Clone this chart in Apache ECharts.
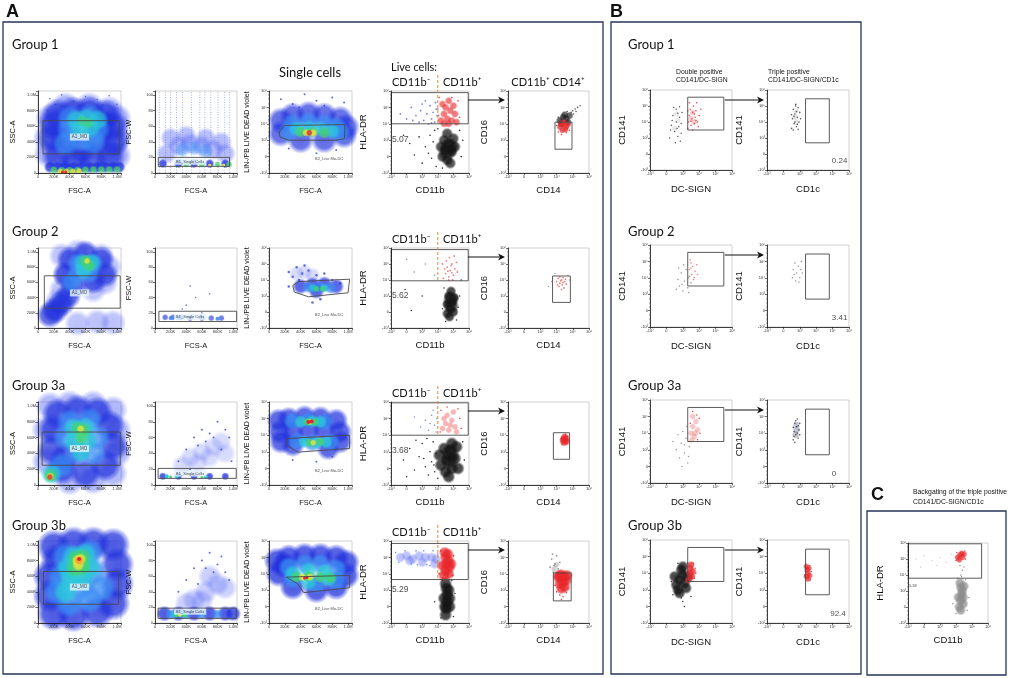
<!DOCTYPE html>
<html>
<head>
<meta charset="utf-8">
<script src="https://cdn.jsdelivr.net/npm/echarts@6/dist/echarts.min.js"></script>
<style>
html, body { margin: 0; padding: 0; background: #fff; }
#main { width: 1029px; height: 678px; }
</style>
</head>
<body>
<div id="main"></div>
<script>
// tick labels
const fscTicks = ['0', '200K', '400K', '600K', '800K', '1.0M'];
const fscwTicks = ['0', '20', '40', '60', '80', '100'];
const logTicks = ['-10³', '0', '10³', '10⁴', '10⁵', '10⁶'];

// ---- Group 1 ----
const g1FscDots = [[150,950],[300,1000],[450,920],[600,980],[750,940],[900,990],[1000,880],[220,880],[520,860],[820,870],[120,800],[980,820]];
const g1FscHaze = [[150,700],[120,450],[130,250],[1000,700],[1000,450],[1000,220],[350,850],[650,850],[900,800]];
const g1FscBlue = [[250,750],[450,780],[650,780],[850,740],[950,600],[950,400],[900,220],[700,200],[450,180],[250,220],[200,450],[200,620],[350,450],[750,450],[800,620],[550,300]];
const g1FscLblue = [[400,700],[650,720],[400,560],[750,560],[550,430],[700,400],[350,380]];
const g1FscCyan = [[480,680],[620,700],[520,560],[660,580],[760,680]];
const g1FscGreen = [[560,670],[640,640]];
const g1FscBandBlue = [[150,75],[250,75],[350,75],[450,75],[550,75],[650,75],[750,75],[850,75],[950,75],[1030,75]];
const g1FscBandGreen = [[200,40],[300,35],[400,35],[500,38],[600,40],[700,45],[800,45],[900,45],[1000,45]];
const g1FscBandYellow = [[280,20],[360,20],[440,22],[520,25]];
const g1FscBandRed = [[310,12],[350,12]];

const g1WStreaks = [55,136,200,276,353,467,574,638,714,808,893,957];
const g1WHaze = [[150,25],[300,35],[450,38],[600,35],[750,30],[900,25],[200,45],[400,48],[650,45],[850,40]];
const g1WLblue = [[350,30],[500,32],[650,28]];
const g1WBandBlue = [[100,12],[300,12],[500,12],[700,12],[900,12]];
const g1WBandGreen = [[400,11],[600,11],[800,11],[950,11]];
const g1WBandYellow = [[700,10],[880,10]];

const g1LinDots = [[150,4.5],[300,4.2],[450,4.8],[600,4.4],[800,4.6],[950,4.3],[250,1.5],[600,1.2],[850,1.4],[380,4.0],[700,4.1]];
const g1LinBlue = [[150,3.2],[300,3.5],[500,3.6],[700,3.5],[900,3.3],[980,2.8],[150,2.4],[400,2.0],[700,2.0],[950,2.3]];
const g1LinLblue = [[300,3.0],[500,3.1],[700,3.0],[850,2.8],[250,2.5],[900,2.5]];
const g1LinCyan = [[350,2.7],[500,2.75],[650,2.7],[800,2.55]];
const g1LinGreen = [[400,2.5],[550,2.5],[700,2.45]];
const g1LinYellow = [[470,2.45],[560,2.45]];
const g1LinRed = [[510,2.45]];

const g1HlaBlackDots = [[1.2,1.8],[1.8,2.2],[2.2,1.6],[2.5,2.3],[2.6,0.9],[2.4,1.2],[2.8,2.6],[1.5,1.1],[2.0,0.6],[2.9,0.4],[3.0,2.7],[4.5,1.0],[4.6,2.0],[4.4,2.6],[3.3,0.3],[0.8,2.3],[2.7,1.9]];
const g1HlaBlack = [[3.3,1.0],[3.5,1.4],[3.7,1.8],[3.9,1.3],[3.6,0.8],[3.4,2.0],[4.0,2.1],[3.8,0.6],[3.2,1.6],[4.1,1.6],[3.6,2.4]];
const g1HlaCore = [[3.6,1.3],[3.75,1.6]];
const g1HlaRed = [[3.2,3.2],[3.4,3.6],[3.6,3.3],[3.8,3.8],[3.5,4.0],[3.9,3.2],[4.1,3.6],[3.3,4.2],[3.7,4.4],[4.0,4.1],[3.4,3.0],[3.7,3.0],[4.2,3.1]];
const g1HlaRedDots = [[3.1,4.6],[4.3,4.4],[4.4,3.4],[3.05,3.5],[3.0,3.9],[3.9,4.6]];
const g1HlaBlueDots = [[0.6,3.6],[1.0,3.3],[1.3,4.0],[1.6,3.5],[1.9,3.8],[2.1,3.2],[2.3,3.6],[2.5,4.1],[2.6,3.3],[2.7,3.7],[2.8,3.1],[2.9,3.9],[2.85,4.3],[2.4,3.0],[2.2,4.4],[1.8,3.1],[2.95,3.5],[2.6,3.05],[1.4,3.2],[2.0,4.2]];

const g1Cd16Black = [[3.2,3.2],[3.4,3.4],[3.6,3.3],[3.5,3.55],[3.3,3.0],[3.7,3.1],[3.8,3.5]];
const g1Cd16Grey = [[3.9,3.7],[4.0,3.8],[4.15,3.9],[4.3,4.0],[4.45,4.1],[3.1,3.4],[3.65,3.75],[4.05,3.6],[3.0,2.9],[4.2,3.75]];
const g1Cd16Red = [[3.2,2.8],[3.4,2.9],[3.6,2.8],[3.35,2.6],[3.55,2.65],[3.7,2.95],[3.25,3.0],[3.45,3.1]];
const g1Cd16RedDots = [[3.1,2.5],[3.8,2.6],[3.3,2.35],[3.6,2.45]];

// ---- Group 2 ----
const g2FscHaze = [[300,950],[500,1000],[800,950],[900,800],[850,600],[350,700],[300,500],[250,350],[200,250],[700,500],[750,80],[500,60],[950,70]];
const g2FscBlue = [[400,900],[600,980],[800,900],[850,700],[350,700],[450,560],[380,420],[300,320],[220,230],[150,170],[700,620]];
const g2FscLblue = [[500,850],[700,850],[500,700],[650,720],[420,600]];
const g2FscCyan = [[560,860],[680,860],[580,760]];
const g2FscGreen = [[600,880],[650,820]];
const g2FscYellow = [[620,880]];

const g2WDots = [[400,30],[520,40],[350,25],[600,20],[700,45],[450,55]];
const g2WBand = [[130,14],[230,14],[330,14],[450,13],[600,13],[720,13],[850,13]];
const g2WBandLight = [[200,13],[300,13],[800,12]];

const g2LinDots = [[250,3.5],[350,3.8],[420,3.4],[300,3.2],[500,3.6],[600,3.3],[450,3.9],[380,3.0],[700,3.4],[800,3.0],[900,2.8],[650,1.8],[550,1.6],[250,2.6]];
const g2LinHaze = [[350,3.4],[450,3.5],[550,3.3]];
const g2LinBlue = [[400,2.6],[550,2.7],[700,2.75],[850,2.6],[600,2.3]];
const g2LinLblue = [[500,2.55],[650,2.55],[780,2.5]];
const g2LinCyan = [[560,2.5],[700,2.5]];
const g2LinGreen = [[600,2.45],[680,2.45]];

const g2HlaBlack = [[3.6,0.9],[3.8,1.2],[3.9,1.6],[3.7,2.0],[3.85,2.3],[4.0,1.0],[3.6,1.5],[4.05,1.9],[3.75,0.7]];
const g2HlaCore = [[3.85,1.4],[3.85,1.8]];
const g2HlaBlackDots = [[3.3,1.2],[3.4,2.5],[4.3,1.3],[4.4,2.0],[3.5,0.4],[4.2,0.5],[2.0,2.0],[1.3,1.1],[0.9,2.4],[4.5,3.0]];
const g2HlaRedDots = [[3.35,3.1],[3.5,3.4],[3.6,3.8],[3.7,3.2],[3.8,3.6],[3.9,4.0],[4.0,3.3],[4.1,3.7],[3.55,4.2],[3.75,4.4],[3.95,3.0],[4.2,4.1],[3.45,3.7],[3.85,3.9],[4.05,4.5],[3.65,3.55],[4.25,3.5],[3.3,4.0],[3.9,3.45],[3.7,3.0]];
const g2HlaGreyDots = [[1.5,3.5],[2.2,4.0],[2.8,3.3],[1.0,4.3]];

const g2Cd16Red = [[3.0,2.9],[3.1,3.1],[3.2,2.8],[3.3,3.0],[3.35,2.7],[3.4,3.15],[3.5,2.9],[3.55,3.05],[3.15,2.6],[3.45,2.5],[3.25,2.95],[3.6,2.75],[3.05,2.7],[3.3,2.4],[3.4,2.85],[3.2,3.2]];
const g2Cd16Grey = [[2.5,2.6],[2.7,2.9],[3.7,3.3],[3.8,3.0],[2.9,3.4]];

// ---- Group 3a ----
const g3aFscHaze = [[150,1000],[400,1020],[700,1020],[950,950],[1000,700],[1000,400],[950,150],[700,60],[400,50],[100,300],[100,700]];
const g3aFscBlue = [[250,900],[500,950],[750,920],[900,750],[950,500],[850,250],[600,150],[300,200],[180,450],[200,700],[350,350]];
const g3aFscLblue = [[400,800],[650,820],[350,600],[750,600],[500,420],[700,400],[300,250]];
const g3aFscCyan = [[450,720],[600,730],[450,560],[620,560],[540,420],[170,140]];
const g3aFscGreen = [[500,720],[580,700],[550,600],[160,120]];
const g3aFscYellow = [[540,710],[155,110]];
const g3aFscRed = [[150,100]];

const g3aWHaze = [[450,35],[600,42],[750,48],[850,55],[700,35],[550,28],[900,40],[350,25]];
const g3aWDots = [[300,30],[400,45],[500,60],[600,70],[700,65],[800,80],[900,70],[950,60],[650,55],[550,50],[750,60],[850,45],[450,20],[980,30]];
const g3aWBand = [[100,11],[300,11],[500,11],[700,11],[900,11]];
const g3aWBandCyan = [[150,11],[280,11],[650,10]];
const g3aWBandGreen = [[200,10],[600,10]];

const g3aLinBlue = [[120,3.9],[250,4.0],[450,4.1],[650,4.05],[850,3.9],[130,3.2],[300,3.2],[700,3.3],[900,3.2],[150,2.6],[300,2.4],[750,2.2],[900,2.6],[500,3.2]];
const g3aLinLblue = [[300,3.85],[500,3.9],[700,3.8],[350,2.65],[550,2.55],[780,2.6]];
const g3aLinCyan = [[400,3.8],[550,3.85],[650,3.8],[450,2.6],[600,2.55],[720,2.6]];
const g3aLinGreen = [[480,3.8],[580,3.8],[520,2.55],[650,2.6]];
const g3aLinYellow = [[520,3.8],[560,2.55]];
const g3aLinRed = [[500,3.8],[540,3.82]];
const g3aLinDots = [[300,1.5],[600,1.4],[800,1.7]];

const g3aHlaBlack = [[3.2,1.2],[3.5,0.8],[3.6,1.5],[3.8,2.1],[3.9,1.0],[4.1,1.6],[3.4,2.2],[4.2,2.3],[3.7,0.5],[4.3,1.0],[3.1,1.8],[3.9,2.5]];
const g3aHlaCore = [[3.75,1.5],[3.8,1.9]];
const g3aHlaBlackDots = [[0.8,1.5],[1.2,2.2],[1.5,0.9],[1.8,1.7],[2.0,2.5],[2.2,1.1],[2.4,0.6],[2.5,2.0],[2.6,1.4],[2.7,2.6],[2.8,0.8],[2.9,1.9],[1.0,0.5],[2.3,2.8],[1.6,2.7],[3.0,0.4],[4.6,2.6],[4.7,1.5],[2.1,1.6],[2.75,1.2]];
const g3aHlaRed = [[3.3,3.4],[3.5,3.7],[3.7,3.3],[3.9,3.9],[4.1,3.5],[3.6,4.2],[4.0,4.4],[3.4,4.0],[4.2,3.2],[3.8,3.6]];
const g3aHlaRedDots = [[3.15,3.2],[3.2,4.5],[4.4,4.0],[4.5,3.4],[3.6,4.7],[4.3,4.6]];
const g3aHlaBlueDots = [[1.9,3.5],[2.2,3.9],[2.4,3.3],[2.6,4.2],[2.8,3.6],[2.9,3.2],[2.95,4.0],[2.7,4.5],[1.5,4.1],[2.5,3.7]];

const g3aCd16Red = [[3.4,2.7],[3.55,2.75],[3.5,2.9],[3.45,2.55],[3.6,2.6]];
const g3aCd16Core = [[3.5,2.75]];
const g3aCd16RedDots = [[3.3,2.8],[3.7,2.95],[3.35,2.45],[3.65,2.5],[3.55,3.05]];

// ---- Group 3b ----
const g3bFscBlue = [[200,980],[450,1020],[700,1020],[950,1000],[1000,750],[1000,500],[950,250],[750,150],[450,100],[200,120],[150,350],[150,600],[250,800]];
const g3bFscLblue = [[350,850],[650,900],[300,600],[700,650],[250,400],[550,450],[800,450],[400,250],[650,300]];
const g3bFscCyan = [[450,850],[600,880],[380,700],[650,700],[420,550],[550,550],[350,400]];
const g3bFscGreen = [[480,820],[560,840],[470,700],[560,720]];
const g3bFscYellow = [[500,800],[540,820],[510,740]];
const g3bFscOrange = [[520,800]];
const g3bFscRed = [[520,820]];

const g3bWHaze = [[500,30],[650,40],[800,50],[900,45],[400,25],[700,60],[600,28]];
const g3bWDots = [[300,40],[400,55],[500,70],[600,80],[700,90],[800,75],[900,65],[550,50],[750,65],[850,85],[650,70],[950,55]];
const g3bWBand = [[120,12],[300,12],[500,12],[700,12],[900,12],[1000,12]];
const g3bWBandLight = [[200,11],[400,11],[600,11],[800,11]];
const g3bWBandCyan = [[250,11],[350,11]];
const g3bWBandGreen = [[280,10],[380,10]];
const g3bWBandYellow = [[320,10]];

const g3bLinBlue = [[100,3.8],[250,4.0],[450,4.1],[650,4.1],[850,4.0],[980,3.7],[120,3.0],[980,2.9],[300,2.2],[600,2.0],[850,2.2],[200,3.5]];
const g3bLinLblue = [[250,3.4],[450,3.6],[650,3.6],[850,3.3],[300,2.7],[850,2.6],[600,2.4]];
const g3bLinCyan = [[300,3.0],[500,3.2],[700,3.1],[500,2.5],[750,2.7]];
const g3bLinGreen = [[350,2.8],[500,2.85],[650,2.8],[780,2.75]];
const g3bLinYellow = [[420,2.8],[520,2.8]];
const g3bLinRed = [[450,2.75],[480,2.78]];

const g3bHlaBlack = [[3.5,0.5],[3.55,0.9],[3.6,1.3],[3.6,1.7],[3.55,2.1],[3.5,2.4],[3.75,1.0],[3.75,1.5],[3.7,2.0],[3.4,1.5],[3.45,1.0]];
const g3bHlaBlackDots = [[3.2,0.3],[4.0,0.4],[3.9,2.6],[3.3,2.6],[2.8,1.3],[4.1,1.8]];
const g3bHlaRed = [[3.4,2.9],[3.5,3.2],[3.55,3.6],[3.5,4.0],[3.45,4.3],[3.7,3.0],[3.75,3.4],[3.7,3.8],[3.65,4.2],[3.3,3.5],[3.85,3.6]];
const g3bHlaRedDots = [[3.1,3.0],[3.2,4.4],[3.95,2.9],[4.0,4.1],[3.3,2.75]];
const g3bHlaBlueHaze = [[0.6,4.0],[1.0,4.1],[1.4,3.9],[1.8,4.1],[2.2,4.0],[2.6,4.0],[2.9,3.9],[1.2,3.8],[2.0,3.7],[2.8,3.6]];
const g3bHlaBlueDots = [[0.3,4.3],[0.5,3.7],[0.9,4.4],[1.3,3.6],[1.6,4.4],[2.1,4.4],[2.5,3.5],[2.7,4.4],[3.0,4.2],[1.7,3.55],[2.3,3.55]];

const g3bCd16Red = [[3.1,2.8],[3.3,2.95],[3.5,2.85],[3.6,2.6],[3.4,2.5],[3.2,2.4],[3.5,2.2],[3.3,2.1],[3.15,2.9],[3.65,2.9],[3.4,2.75]];
const g3bCd16RedDots = [[3.0,1.9],[3.2,1.7],[3.4,1.6],[3.6,1.85],[3.3,1.45],[3.7,2.1],[2.9,2.3]];
const g3bCd16Grey = [[2.6,3.4],[2.7,3.9],[2.8,3.1],[2.9,3.6],[3.0,4.1],[3.1,3.3],[3.2,3.7],[2.75,4.2],[3.05,3.0],[2.85,3.5]];
const g3bCd16GreyHaze = [[2.85,3.3],[3.0,3.55]];

// ---- panel B: DC-SIGN / CD141 ----
const b1SignGrey = [[1.2,2.0],[1.3,2.8],[1.4,3.4],[1.5,2.4],[1.6,3.0],[1.6,3.8],[1.7,2.1],[1.75,2.7],[1.8,3.3],[1.85,1.8],[1.9,2.9],[1.95,3.6],[1.45,3.9],[1.55,1.7],[1.35,3.1],[1.65,2.6],[1.8,3.95],[1.25,2.5],[1.9,2.3],[1.7,3.55]];
const b1SignGreyHaze = [[1.5,2.6],[1.7,3.1],[1.6,3.5]];
const b1SignRed = [[2.3,2.6],[2.35,3.0],[2.4,3.4],[2.45,3.8],[2.5,2.8],[2.55,3.2],[2.6,3.6],[2.65,4.0],[2.7,2.9],[2.75,3.3],[2.8,3.7],[2.85,4.2],[2.9,3.0],[3.0,3.4],[3.1,3.8],[2.4,4.2],[2.6,2.5],[2.95,2.7],[2.3,3.7],[2.7,3.5],[2.5,3.05],[2.8,3.1]];
const b1SignRedHaze = [[2.5,3.2],[2.6,3.6],[2.7,3.0]];
const b2SignGrey = [[1.6,2.3],[1.7,2.9],[1.8,2.5],[1.9,3.3],[2.0,2.2],[2.1,2.8],[2.2,3.5],[2.3,2.4],[2.4,3.1],[1.75,3.6],[2.05,3.8],[2.35,2.1],[1.95,2.6],[2.5,2.7]];
const b2SignRed = [[2.35,3.0],[2.4,3.5],[2.5,3.9],[2.55,3.2],[2.6,3.7],[2.7,3.0],[2.75,3.4],[2.85,3.8],[2.45,4.1],[2.9,3.2],[2.65,2.9],[2.5,3.6]];
const b3SignGrey = [[1.4,2.5],[1.6,2.0],[1.7,2.9],[1.8,1.5],[1.9,2.4],[2.0,3.1],[2.1,1.8],[2.2,2.7],[2.3,1.2],[2.4,2.2],[2.25,3.4],[1.95,1.0],[2.1,2.3],[2.35,1.6]];
const b3SignRed = [[2.5,3.0],[2.6,3.4],[2.7,2.8],[2.8,3.7],[2.9,3.2],[2.6,4.0],[2.75,3.0],[2.55,2.6]];
const b3SignRedDots = [[2.4,2.5],[2.45,3.6],[2.6,4.3],[2.9,2.6],[3.0,3.9],[2.85,4.1],[3.05,3.0]];
const b4SignBlack = [[1.6,2.3],[1.8,2.6],[2.0,2.9],[2.1,2.4],[1.9,3.2],[1.7,2.0],[2.2,2.1],[2.3,2.8],[1.5,2.8],[2.0,3.4],[1.8,1.8]];
const b4SignBlackDots = [[1.3,2.5],[1.4,1.7],[2.5,1.6],[2.0,1.3],[1.7,3.6],[2.3,3.6],[2.1,1.0],[1.9,1.5]];
const b4SignRed = [[2.35,2.6],[2.4,3.0],[2.45,3.3],[2.55,2.8],[2.5,3.5],[2.6,3.1]];
const b4SignRedDots = [[2.7,2.7],[2.75,3.3],[2.8,3.0],[2.65,3.6]];

// ---- panel B: CD1c / CD141 ----
const b1Cd1cDots = [[1.5,2.6],[1.55,3.2],[1.6,3.8],[1.65,2.9],[1.7,3.5],[1.75,4.1],[1.8,2.7],[1.85,3.3],[1.9,3.9],[1.95,3.0],[2.0,3.6],[1.6,2.5],[1.7,3.0],[1.8,3.65],[1.9,2.55],[1.75,4.0],[1.5,3.45],[2.05,3.2],[1.65,3.35],[1.85,2.85]];
const b1Cd1cHaze = [[1.7,3.3],[1.8,3.0],[1.75,3.7]];
const b2Cd1cDots = [[1.55,3.0],[1.6,3.5],[1.7,3.9],[1.75,2.8],[1.8,3.3],[1.9,3.7],[2.0,3.0],[2.05,3.5],[2.1,4.0],[1.65,3.2],[1.95,2.75],[2.15,3.3]];
const b3Cd1cDots = [[1.6,2.6],[1.65,3.1],[1.7,3.6],[1.75,2.9],[1.8,3.4],[1.85,3.85],[1.9,2.7],[1.95,3.2],[2.0,3.6],[1.7,2.45],[1.6,3.35],[1.85,3.0],[1.75,3.75],[2.0,2.9],[1.9,3.45],[1.65,2.8]];
const b3Cd1cHaze = [[1.8,3.2],[1.75,2.9],[1.8,3.5]];
const b4Cd1cRed = [[2.4,2.8],[2.5,3.0],[2.55,3.3],[2.45,3.2],[2.6,2.85],[2.5,2.65],[2.4,3.4]];
const b4Cd1cRedDots = [[2.3,2.9],[2.7,3.1],[2.35,3.55],[2.65,2.6],[2.6,3.45]];

// ---- panel C: backgating ----
const cGrey = [[3.2,1.0],[3.3,1.4],[3.35,1.8],[3.3,2.2],[3.25,2.5],[3.45,1.2],[3.45,1.6],[3.4,2.0],[3.15,1.6],[3.5,2.3],[3.3,0.8]];
const cGreyDots = [[3.0,0.6],[3.7,0.8],[3.6,2.7],[3.1,2.8],[3.3,3.0],[3.4,3.3],[3.25,3.6],[3.5,3.5],[2.8,1.2],[3.8,1.6],[3.35,2.9]];
const cLightDots = [[0.5,4.0],[1.0,4.2],[1.5,3.9],[2.0,4.1],[2.4,3.8],[2.7,4.3],[1.8,3.6],[0.8,3.5]];
const cRed = [[3.1,4.1],[3.25,4.25],[3.4,4.1],[3.2,3.95],[3.5,4.3],[3.35,4.35]];
const cRedDots = [[3.0,3.9],[3.6,4.0],[3.05,4.4],[3.55,4.5]];

// gates: [x0, x1, y0, y1] or polygon
const gatesFsc = [[63,1029,245,670],[80,1040,260,685],[52,1040,250,670],[70,1020,240,660]];
const gatesW = [[42,955,8.5,20],[50,1045,8.5,22],[40,1040,8.4,21],[40,1040,6,19]];
const gatesLin = [
  [[127,2.5],[200,2.9],[960,2.95],[955,2.1],[850,2.0],[250,2.0],[140,2.2],[127,2.5]],
  [[300,2.65],[375,2.9],[1020,3.05],[1000,2.2],[500,1.95],[320,2.25],[300,2.65]],
  [[220,2.8],[1020,3.0],[1020,2.2],[360,1.98],[225,2.4],[220,2.8]],
  [[220,2.8],[1020,2.9],[1020,2.15],[440,1.85],[360,2.4],[220,2.8]]
];
const gatesHla = [[0.02,4.95,3.0,4.9],[0.02,4.95,2.95,4.9],[0.02,4.95,3.0,4.95],[0.02,4.95,2.65,4.85]];
const gatesCd16 = [[2.9,3.95,1.45,3.1],[2.75,3.85,1.6,3.25],[2.8,3.8,1.55,3.15],[2.8,3.9,1.35,3.05]];
const gateSign = [2.3,4.5,2.5,4.55];
const gateCd1c = [2.35,3.8,1.7,4.45];
const gateBack = [0.02,4.6,2.8,4.95];

const pctHla = ['5.07', '5.62', '3.68', '5.29'];
const pctCd1c = ['0.24', '3.41', '0', '92.4'];
const pctBack = '5.38';
const groupNames = ['Group 1', 'Group 2', 'Group 3a', 'Group 3b'];

// ---------- layout ----------
const colA = [[38,121],[155,237],[269,352],[391,469],[508,589]];
const rowA = [[91,173],[248,328],[402,485],[541,623]];
const colB = [[650,732],[767,849]];
const rowB = [[90,170],[245,327],[400,483],[540,623]];
const rectC = [908,988,543,623];
const groupY = [45, 232, 386, 526];

const COL = {
  haze: '#5566f2', blue: '#1f30dc', lblue: '#3a8ef4', cyan: '#28cad8', green: '#44d46a',
  yellow: '#f2e43a', orange: '#f39230', red: '#e8262a', black: '#141414', grey: '#8a8a8a',
  dot: '#3546e6', lgrey: '#c4c4c4', dgrey: '#444', pale: '#6a78e8', pink: '#f06a6a'
};

const AXES = {
  fsc: { min: 0, max: 1050, interval: 200, labels: fscTicks },
  fscw: { min: 0, max: 105, interval: 20, labels: fscwTicks },
  log: { min: 0, max: 5, interval: 1, labels: logTicks }
};

const SANS = 'Liberation Sans, Arial, sans-serif';
const TITLE = 'Lato, Open Sans, sans-serif';

const grids = [], xAxes = [], yAxes = [], series = [], graphics = [];

function rgba(hex, a) {
  const n = parseInt(hex.slice(1), 16);
  return 'rgba(' + (n >> 16) + ',' + ((n >> 8) & 255) + ',' + (n & 255) + ',' + a + ')';
}

// soft-edged fill so overlapping blobs read as a density cloud
function softFill(hex, op) {
  return { type: 'radial', x: 0.5, y: 0.5, r: 0.5, colorStops: [
    { offset: 0, color: rgba(hex, op) }, { offset: 0.62, color: rgba(hex, op * 0.92) },
    { offset: 1, color: rgba(hex, 0) }] };
}

function makeAxis(kind, gi, name, gap, size) {
  const k = AXES[kind];
  return {
    type: 'value', gridIndex: gi, min: k.min, max: k.max, interval: k.interval, z: 10,
    name: name, nameLocation: 'middle', nameGap: gap,
    nameTextStyle: { fontSize: size, fontFamily: SANS, color: '#111' },
    axisLine: { show: true, onZero: false, lineStyle: { color: '#111', width: 0.8 } },
    axisTick: { show: true, length: 2, lineStyle: { color: '#111', width: 0.6 } },
    minorTick: { show: kind === 'log', splitNumber: 4, length: 1, lineStyle: { color: '#333', width: 0.4 } },
    axisLabel: {
      fontSize: 4, color: '#333', margin: 2, fontFamily: SANS,
      formatter: function (v) {
        const i = (v - k.min) / k.interval;
        return Math.abs(i - Math.round(i)) < 1e-6 ? (k.labels[Math.round(i)] || '') : '';
      }
    },
    splitLine: { show: false }
  };
}

function gatePath(g) {
  if (typeof g[0] === 'number') {
    return [[g[0], g[2]], [g[1], g[2]], [g[1], g[3]], [g[0], g[3]], [g[0], g[2]]];
  }
  return g;
}

function addPlot(p) {
  const gi = grids.length;
  const [l, r, t, b] = p.rect;
  grids.push({ left: l, top: t, width: r - l, height: b - t, show: true,
    borderColor: '#b4b4b4', borderWidth: 0.6, backgroundColor: '#fff' });
  xAxes.push(makeAxis(p.x, gi, p.xn, p.xg, p.xs));
  yAxes.push(makeAxis(p.y, gi, p.yn, p.yg, p.ys));
  (p.streaks || []).forEach(function (sx) {
    series.push({ type: 'line', xAxisIndex: gi, yAxisIndex: gi, symbol: 'none', silent: true, animation: false,
      data: [[sx, AXES[p.y].min], [sx, AXES[p.y].max]],
      lineStyle: { color: COL.dot, width: 0.7, type: [1, 1.5], opacity: 0.6 }, z: 2 });
  });
  p.layers.forEach(function (ly) {
    const soft = ly[2] >= 5;
    series.push({ type: 'scatter', xAxisIndex: gi, yAxisIndex: gi, data: ly[0],
      symbolSize: soft ? ly[2] * 1.35 : ly[2], clip: true, silent: true, animation: false,
      itemStyle: soft ? { color: softFill(COL[ly[1]], ly[3]) } : { color: COL[ly[1]], opacity: ly[3] }, z: 2 });
  });
  if (p.gate) {
    series.push({ type: 'line', xAxisIndex: gi, yAxisIndex: gi, data: gatePath(p.gate), symbol: 'none',
      silent: true, animation: false, lineStyle: { color: '#4a4a4a', width: 0.9 }, z: 5 });
  }
  (p.notes || []).forEach(function (n) {
    series.push({ type: 'scatter', xAxisIndex: gi, yAxisIndex: gi, data: [n.at], symbolSize: 0.1,
      silent: true, animation: false, itemStyle: { color: 'rgba(0,0,0,0)' }, z: 6,
      label: { show: true, formatter: n.text, position: n.pos || 'inside', distance: 0,
        fontSize: n.size, fontFamily: SANS, color: '#222',
        backgroundColor: n.box ? '#e4f4ff' : 'transparent', padding: n.box ? [1, 2] : 0 } });
  });
  return gi;
}

function rectA(c, r) { return [colA[c][0], colA[c][1], rowA[r][0], rowA[r][1]]; }
function rectB(c, r) { return [colB[c][0], colB[c][1], rowB[r][0], rowB[r][1]]; }

// ---------- panel A ----------
const fscLayers = [
  [[g1FscDots,'dot',1.6,0.8],[g1FscHaze,'haze',22,0.7],[g1FscBlue,'blue',24,0.95],[g1FscLblue,'lblue',20,0.9],[g1FscCyan,'cyan',16,0.9],[g1FscGreen,'green',9,0.75],
   [g1FscBandBlue,'blue',9,1],[g1FscBandGreen,'green',6,1],[g1FscBandYellow,'yellow',5,1],[g1FscBandRed,'red',3,1]],
  [[g2FscHaze,'haze',20,0.5],[g2FscBlue,'blue',20,0.95],[g2FscLblue,'lblue',16,0.95],[g2FscCyan,'cyan',14,0.95],[g2FscGreen,'green',10,0.95],[g2FscYellow,'yellow',5,1]],
  [[g3aFscHaze,'haze',22,0.6],[g3aFscBlue,'blue',24,0.95],[g3aFscLblue,'lblue',20,0.95],[g3aFscCyan,'cyan',16,0.95],[g3aFscGreen,'green',11,0.95],
   [g3aFscYellow,'yellow',6,1],[g3aFscRed,'red',5,1]],
  [[g3bFscBlue,'blue',26,1],[g3bFscLblue,'lblue',22,1],[g3bFscCyan,'cyan',18,1],[g3bFscGreen,'green',14,1],
   [g3bFscYellow,'yellow',9,1],[g3bFscOrange,'orange',7,1],[g3bFscRed,'red',4,1]]
];
const wLayers = [
  [[g1WHaze,'haze',16,0.55],[g1WLblue,'lblue',12,0.6],[g1WBandBlue,'blue',7,1],[g1WBandGreen,'green',5,1],[g1WBandYellow,'yellow',3,1]],
  [[g2WDots,'dot',1.6,0.8],[g2WBand,'blue',5,0.8],[g2WBandLight,'lblue',4,0.9]],
  [[g3aWHaze,'haze',16,0.3],[g3aWDots,'dot',2,0.8],[g3aWBand,'blue',6,1],[g3aWBandCyan,'cyan',4,1],[g3aWBandGreen,'green',3,1]],
  [[g3bWHaze,'haze',18,0.4],[g3bWDots,'dot',2,0.8],[g3bWBand,'blue',12,1],[g3bWBandLight,'lblue',8,1],[g3bWBandCyan,'cyan',6,1],
   [g3bWBandGreen,'green',4,1],[g3bWBandYellow,'yellow',3,1]]
];
const linLayers = [
  [[g1LinDots,'dot',2,0.8],[g1LinBlue,'blue',20,0.9],[g1LinLblue,'lblue',16,0.95],[g1LinCyan,'cyan',12,0.95],[g1LinGreen,'green',9,1],[g1LinYellow,'yellow',6,1],[g1LinRed,'red',5,1]],
  [[g2LinDots,'dot',2.5,0.8],[g2LinHaze,'haze',12,0.3],[g2LinBlue,'blue',12,0.95],[g2LinLblue,'lblue',9,0.95],[g2LinCyan,'cyan',7,1],[g2LinGreen,'green',5,1]],
  [[g3aLinDots,'dot',2,0.8],[g3aLinBlue,'blue',18,0.95],[g3aLinLblue,'lblue',14,0.95],[g3aLinCyan,'cyan',10,1],[g3aLinGreen,'green',7,1],[g3aLinYellow,'yellow',5,1],[g3aLinRed,'red',4,1]],
  [[g3bLinBlue,'blue',20,1],[g3bLinLblue,'lblue',16,1],[g3bLinCyan,'cyan',13,1],[g3bLinGreen,'green',9,1],[g3bLinYellow,'yellow',6,1],[g3bLinRed,'red',3,1]]
];
const hlaLayers = [
  [[g1HlaBlueDots,'pale',1.8,0.9],[g1HlaBlackDots,'black',1.6,0.9],[g1HlaBlack,'black',9,0.95],[g1HlaCore,'black',14,1],[g1HlaRed,'red',6,0.8],[g1HlaRedDots,'red',1.6,0.9]],
  [[g2HlaGreyDots,'grey',1.5,0.9],[g2HlaBlackDots,'black',1.5,0.9],[g2HlaBlack,'black',8,1],[g2HlaCore,'black',12,1],[g2HlaRedDots,'pink',1.8,0.85]],
  [[g3aHlaBlueDots,'pale',1.5,0.9],[g3aHlaBlackDots,'black',1.6,0.9],[g3aHlaBlack,'black',10,1],[g3aHlaCore,'black',14,1],[g3aHlaRed,'pink',5,0.65],[g3aHlaRedDots,'red',1.5,0.9]],
  [[g3bHlaBlueHaze,'haze',8,0.5],[g3bHlaBlueDots,'pale',1.6,0.9],[g3bHlaBlackDots,'black',1.5,0.9],[g3bHlaBlack,'black',10,1],[g3bHlaRed,'red',9,1],[g3bHlaRedDots,'red',2,0.9]]
];
const cd16Layers = [
  [[g1Cd16Grey,'dgrey',1.6,0.9],[g1Cd16Black,'black',6,0.85],[g1Cd16Red,'red',5,0.95],[g1Cd16RedDots,'red',1.5,0.9]],
  [[g2Cd16Grey,'grey',1.5,0.8],[g2Cd16Red,'pink',1.8,0.85]],
  [[g3aCd16Red,'red',6,0.85],[g3aCd16Core,'red',8,1],[g3aCd16RedDots,'red',1.5,0.9]],
  [[g3bCd16GreyHaze,'grey',5,0.5],[g3bCd16Grey,'grey',1.8,0.9],[g3bCd16Red,'red',9,1],[g3bCd16RedDots,'red',1.6,0.9]]
];

for (let r = 0; r < 4; r++) {
  addPlot({ rect: rectA(0, r), x: 'fsc', y: 'fsc', xn: 'FSC-A', yn: 'SSC-A', xs: 7.5, ys: 7.5, xg: 14, yg: 21,
    layers: fscLayers[r], gate: gatesFsc[r], notes: [{ at: [525, 460], text: 'A1_MO', size: 4.5, box: true }] });
  addPlot({ rect: rectA(1, r), x: 'fsc', y: 'fscw', xn: 'FCS-A', yn: 'FSC-W', xs: 7.5, ys: 7.5, xg: 14, yg: 22,
    layers: wLayers[r], gate: gatesW[r], streaks: r === 0 ? g1WStreaks : null,
    notes: [{ at: [450, 14.5], text: 'B1_Single Cells', size: 4, box: true }] });
  addPlot({ rect: rectA(2, r), x: 'fsc', y: 'log', xn: 'FSC-A', yn: 'LIN-/PB LIVE DEAD violet', xs: 7.5, ys: 7, xg: 14, yg: 18,
    layers: linLayers[r], gate: gatesLin[r], notes: [{ at: [760, 0.85], text: 'B2_Live Mo-DC', size: 4 }] });
  addPlot({ rect: rectA(3, r), x: 'log', y: 'log', xn: 'CD11b', yn: 'HLA-DR', xs: 9.5, ys: 9.5, xg: 12, yg: 23,
    layers: hlaLayers[r], gate: gatesHla[r], notes: [{ at: [0.06, 2.05], text: pctHla[r], size: 8.5, pos: 'right' }] });
  addPlot({ rect: rectA(4, r), x: 'log', y: 'log', xn: 'CD14', yn: 'CD16', xs: 9.5, ys: 9.5, xg: 12, yg: 19,
    layers: cd16Layers[r], gate: gatesCd16[r] });
}

// ---------- panel B ----------
const signLayers = [
  [[b1SignGreyHaze,'grey',5,0.25],[b1SignGrey,'dgrey',1.5,0.9],[b1SignRedHaze,'red',5,0.3],[b1SignRed,'red',1.6,0.85]],
  [[b2SignGrey,'grey',1.5,0.9],[b2SignRed,'pink',1.6,0.9]],
  [[b3SignGrey,'grey',1.5,0.9],[b3SignRed,'pink',5,0.5],[b3SignRedDots,'red',1.5,0.9]],
  [[b4SignBlackDots,'black',1.5,0.9],[b4SignBlack,'black',9,1],[b4SignRed,'red',6,1],[b4SignRedDots,'red',1.5,0.9]]
];
const cd1cLayers = [
  [[b1Cd1cHaze,'grey',5,0.25],[b1Cd1cDots,'dgrey',1.6,0.9]],
  [[b2Cd1cDots,'grey',1.5,0.9]],
  [[b3Cd1cHaze,'dgrey',6,0.3],[b3Cd1cDots,'dgrey',1.6,0.9]],
  [[b4Cd1cRed,'red',5,0.95],[b4Cd1cRedDots,'red',1.5,0.9]]
];
for (let r = 0; r < 4; r++) {
  addPlot({ rect: rectB(0, r), x: 'log', y: 'log', xn: 'DC-SIGN', yn: 'CD141', xs: 9.5, ys: 9.5, xg: 14, yg: 23,
    layers: signLayers[r], gate: gateSign });
  addPlot({ rect: rectB(1, r), x: 'log', y: 'log', xn: 'CD1c', yn: 'CD141', xs: 9.5, ys: 9.5, xg: 14, yg: 23,
    layers: cd1cLayers[r], gate: gateCd1c,
    notes: [{ at: [r === 3 ? 3.85 : 3.95, 0.55], text: pctCd1c[r], size: 8, pos: 'right' }] });
}

// ---------- panel C ----------
addPlot({ rect: rectC, x: 'log', y: 'log', xn: 'CD11b', yn: 'HLA-DR', xs: 9.5, ys: 9.5, xg: 12, yg: 23,
  layers: [[cLightDots,'lgrey',1.4,0.9],[cGreyDots,'grey',1.5,0.9],[cGrey,'grey',8,0.95],[cRed,'red',5,0.95],[cRedDots,'red',1.5,0.9]],
  gate: gateBack, notes: [{ at: [0.3, 2.35], text: pctBack, size: 4 }] });

// ---------- annotations ----------
function text(x, y, s, size, opt) {
  opt = opt || {};
  graphics.push({ type: 'text', x: x, y: y, rotation: opt.rot || 0, z: 20, silent: true,
    style: { text: s, fontSize: size, fontFamily: opt.font || TITLE, fontWeight: opt.bold ? 'bold' : 'normal',
      fill: '#111', align: opt.align || 'left', verticalAlign: 'middle' } });
}
function box(x0, y0, x1, y1) {
  graphics.push({ type: 'rect', z: 20, silent: true, shape: { x: x0, y: y0, width: x1 - x0, height: y1 - y0 },
    style: { fill: 'none', stroke: '#26365a', lineWidth: 1.3 } });
}
function arrow(x0, x1, y) {
  graphics.push({ type: 'line', z: 20, silent: true, shape: { x1: x0, y1: y, x2: x1 - 5, y2: y },
    style: { stroke: '#111', lineWidth: 1 } });
  graphics.push({ type: 'polygon', z: 20, silent: true, shape: { points: [[x1, y], [x1 - 7, y - 3.5], [x1 - 5, y], [x1 - 7, y + 3.5]] },
    style: { fill: '#111' } });
}

box(3, 22, 603, 674);
box(611, 22, 861, 674);
box(867, 511, 1006, 675);
text(6, 12, 'A', 18, { bold: true, font: SANS });
text(610, 12, 'B', 18, { bold: true, font: SANS });
text(871, 495, 'C', 18, { bold: true, font: SANS });

for (let r = 0; r < 4; r++) {
  text(12, groupY[r], groupNames[r], 13);
  text(628, groupY[r], groupNames[r], 13);
  const top = rowA[r][0], h = rowA[r][1] - rowA[r][0];
  const w4 = colA[3][1] - colA[3][0];
  const xDash = colA[3][0] + 3.0 / 5 * w4;
  text(392, top - 9, 'CD11b⁻', 11);
  text(443, top - 9, 'CD11b⁺', 11);
  graphics.push({ type: 'line', z: 20, silent: true,
    shape: { x1: xDash, y1: top - 16, x2: xDash, y2: rowA[r][1] - gatesHla[r][2] / 5 * h },
    style: { stroke: '#e8863a', lineWidth: 1, lineDash: [3, 2] } });
  arrow(colA[3][1] - 1, colA[4][0] - 3, top + 9);
  const wb = colB[0][1] - colB[0][0];
  arrow(colB[0][0] + gateSign[1] / 5 * wb + 1, colB[1][0] - 3, rowB[r][0] + 10);
}
text(310, 73, 'Single cells', 13, { align: 'center' });
text(391, 67, 'Live cells:', 11);
text(548, 82, 'CD11b⁺ CD14⁺', 11, { align: 'center' });
text(676, 72, 'Double positive', 6.8, { font: SANS });
text(676, 80, 'CD141/DC-SIGN', 6.8, { font: SANS });
text(768, 72, 'Triple positive', 6.8, { font: SANS });
text(768, 80, 'CD141/DC-SIGN/CD1c', 6.8, { font: SANS });
text(913, 492, 'Backgating of the triple positive', 6.8, { font: SANS });
text(913, 502, 'CD141/DC-SIGN/CD1c', 6.8, { font: SANS });

const chart = echarts.init(document.getElementById('main'));
chart.setOption({
  animation: false,
  backgroundColor: '#fff',
  grid: grids,
  xAxis: xAxes,
  yAxis: yAxes,
  series: series,
  graphic: { elements: graphics }
});
</script>
</body>
</html>
